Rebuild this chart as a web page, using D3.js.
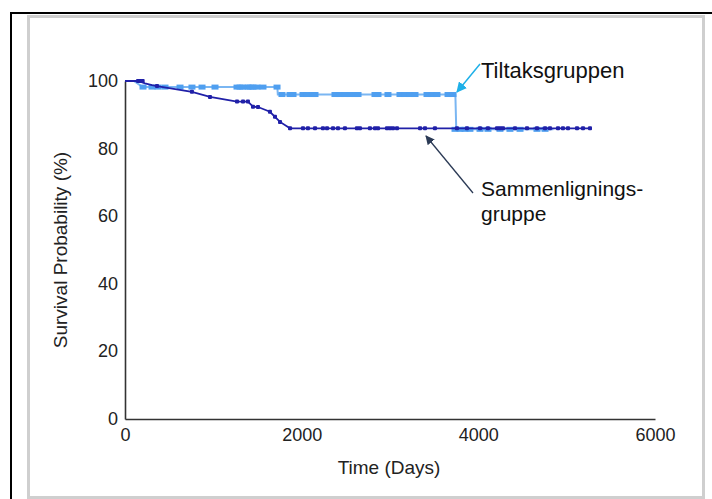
<!DOCTYPE html>
<html>
<head>
<meta charset="utf-8">
<script src="https://cdn.jsdelivr.net/npm/d3@7"></script>
<style>
  body { margin: 0; background: #fff; }
  svg { display: block; font-family: "Liberation Sans", Arial, sans-serif; }
</style>
</head>
<body>
<div class="chart"></div>
<script>
var w = 712;
var h = 499;

// Kaplan-Meier curves, [days, survival %]
var tiltakCurve = [[0,100],[100,100],[200,98.2],[1725,98.2],[1730,96.0],[3740,96.0],[3750,85.7],[4850,85.7]];
var sammenCurve = [[0,100],[150,100],[226,99.3],[306,98.8],[362,98.5],[758,96.8],[962,95.3],[1268,93.9],[1392,93.9],
  [1449,92.4],[1506,92.3],[1641,90.9],[1698,89.4],[1755,87.9],[1868,86.0],[5286,86.0]];

// censored observations (markers)
var tiltakCensor = [[204,98.2],[306,98.2],[374,98.2],[453,98.2],[623,98.2],[758,98.2],[872,98.2],[1019,98.2],
  [1268,98.2],[1302,98.2],[1336,98.2],[1392,98.2],[1420,98.2],[1449,98.2],[1494,98.2],[1562,98.2],[1721,98.2],
  [1777,96],[1868,96],[1902,96],[2015,96],[2060,96],[2128,96],[2151,96],[2377,96],[2434,96],[2490,96],[2547,96],
  [2604,96],[2638,96],[2830,96],[2864,96],[2977,96],[3113,96],[3170,96],[3226,96],[3283,96],[3419,96],[3475,96],
  [3532,96],[3657,96],[3713,96],
  [3736,85.7],[3792,85.7],[3849,85.7],[3905,85.7],[4019,85.7],[4109,85.7],[4245,85.7],[4358,85.7],[4472,85.7],
  [4664,85.7],[4755,85.7]];
var sammenCensor = [[147,100],[170,100],[200,100],[362,98.5],[758,96.8],[962,95.3],[1268,93.9],[1336,93.9],[1392,93.9],
  [1449,92.4],[1506,92.3],[1641,90.9],[1698,89.4],[1755,87.9],[1868,86],[2015,86],[2071,86],[2151,86],[2241,86],
  [2287,86],[2355,86],[2411,86],[2490,86],[2626,86],[2660,86],[2773,86],[2830,86],[2864,86],[2966,86],[3000,86],
  [3034,86],[3079,86],[3340,86],[3396,86],[3509,86],[3758,86],[3871,86],[4019,86],[4109,86],[4211,86],[4245,86],
  [4279,86],[4415,86],[4551,86],[4664,86],[4755,86],[4811,86],[4902,86],[4958,86],[5015,86],[5117,86],[5185,86],[5264,86]];

var xTicks = [0, 2000, 4000, 6000];
var yTicks = [0, 20, 40, 60, 80, 100];

var svg = d3.select(".chart")
    .append("svg")
    .attr("width", w)
    .attr("height", h);

// frames
svg.append("path")
    .attr("d", "M11,499 V13 H712")
    .attr("fill", "none")
    .attr("stroke", "#000")
    .attr("stroke-width", 2);
svg.append("rect")
    .attr("x", 28.5).attr("y", 16.5)
    .attr("width", 675).attr("height", 481)
    .attr("fill", "none")
    .attr("stroke", "#cfcfcf")
    .attr("stroke-width", 3);

var x = d3.scaleLinear().domain([0, 6000]).range([125, 655]);
var y = d3.scaleLinear().domain([0, 100]).range([419, 81]);

// axes
var xAxis = svg.append("g")
    .attr("transform", "translate(0,419)")
    .call(d3.axisBottom(x).tickValues(xTicks).tickSize(0).tickPadding(8).tickFormat(d3.format("d")));
var yAxis = svg.append("g")
    .attr("transform", "translate(125,0)")
    .call(d3.axisLeft(y).tickValues(yTicks).tickSize(0).tickPadding(7).tickFormat(d3.format("d")));

[xAxis, yAxis].forEach(function (a) {
    a.select(".domain").attr("stroke", "#333").attr("stroke-width", 1.6);
    a.selectAll("text")
        .attr("fill", "#222")
        .style("font-size", "18px")
        .style("font-family", "'Liberation Sans', Arial, sans-serif");
});
yAxis.selectAll("text").attr("dy", "0.3em");
xAxis.selectAll("text").attr("dy", "0.75em");

svg.append("text")
    .attr("x", 389).attr("y", 474)
    .attr("text-anchor", "middle")
    .attr("fill", "#222")
    .style("font-size", "19px")
    .text("Time (Days)");
svg.append("text")
    .attr("transform", "translate(67,250) rotate(-90)")
    .attr("text-anchor", "middle")
    .attr("fill", "#222")
    .style("font-size", "19px")
    .text("Survival Probability (%)");

var line = d3.line()
    .x(function (d) { return x(d[0]); })
    .y(function (d) { return y(d[1]); });

// Tiltaksgruppen
svg.append("path")
    .datum(tiltakCurve)
    .attr("d", line)
    .attr("fill", "none")
    .attr("stroke", "#7ab6f2")
    .attr("stroke-width", 2);
svg.append("g").selectAll("rect")
    .data(tiltakCensor)
    .enter()
    .append("rect")
    .attr("x", function (d) { return x(d[0]) - 3.5; })
    .attr("y", function (d) { return y(d[1]) - 2.5; })
    .attr("width", 7)
    .attr("height", 5)
    .attr("fill", "#4f9ff0");

// Sammenligningsgruppe
svg.append("path")
    .datum(sammenCurve)
    .attr("d", line)
    .attr("fill", "none")
    .attr("stroke", "#2020a8")
    .attr("stroke-width", 1.8);
svg.append("g").selectAll("rect")
    .data(sammenCensor)
    .enter()
    .append("rect")
    .attr("x", function (d) { return x(d[0]) - 2; })
    .attr("y", function (d) { return y(d[1]) - 2; })
    .attr("width", 4)
    .attr("height", 4)
    .attr("rx", 1)
    .attr("fill", "#2020a8");

// annotations
var defs = svg.append("defs");
function marker(id, col) {
    defs.append("marker")
        .attr("id", id)
        .attr("viewBox", "0 0 10 10")
        .attr("refX", 9).attr("refY", 5)
        .attr("markerWidth", 7).attr("markerHeight", 7)
        .attr("orient", "auto")
        .append("path")
        .attr("d", "M0,0 L10,5 L0,10 z")
        .attr("fill", col);
}
marker("arrCyan", "#1fb0e8");
marker("arrDark", "#2b3a55");

svg.append("line")
    .attr("x1", 480).attr("y1", 64).attr("x2", 457).attr("y2", 92)
    .attr("stroke", "#1fb0e8").attr("stroke-width", 1.5)
    .attr("marker-end", "url(#arrCyan)");
svg.append("line")
    .attr("x1", 473).attr("y1", 193).attr("x2", 426).attr("y2", 136)
    .attr("stroke", "#2b3a55").attr("stroke-width", 1.3)
    .attr("marker-end", "url(#arrDark)");

svg.append("text")
    .attr("x", 481).attr("y", 78)
    .attr("fill", "#111")
    .style("font-size", "22px")
    .text("Tiltaksgruppen");
svg.append("text")
    .attr("x", 481).attr("y", 196)
    .attr("fill", "#111")
    .style("font-size", "21px")
    .text("Sammenlignings-");
svg.append("text")
    .attr("x", 481).attr("y", 221)
    .attr("fill", "#111")
    .style("font-size", "21px")
    .text("gruppe");
</script>
</body>
</html>
